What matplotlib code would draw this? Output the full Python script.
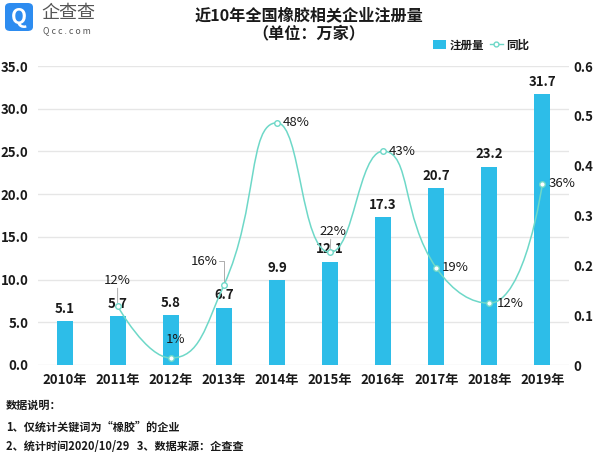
import math
import matplotlib
matplotlib.use("Agg")
import matplotlib.pyplot as plt
from matplotlib.path import Path
from matplotlib.patches import PathPatch, FancyBboxPatch, Patch
from matplotlib.lines import Line2D

plt.rcParams['font.family'] = ['Noto Sans CJK SC', 'DejaVu Sans']

years = ['2010年', '2011年', '2012年', '2013年', '2014年', '2015年', '2016年', '2017年', '2018年', '2019年']
registrations = [5.1, 5.7, 5.8, 6.7, 9.9, 12.1, 17.3, 20.7, 23.2, 31.7]
growth = [None, 0.118, 0.014, 0.16, 0.486, 0.226, 0.429, 0.195, 0.124, 0.364]
growth_labels = ['', '12%', '1%', '16%', '48%', '22%', '43%', '19%', '12%', '36%']
left_ticks = [0, 5, 10, 15, 20, 25, 30, 35]
right_ticks = [0, 0.1, 0.2, 0.3, 0.4, 0.5, 0.6]
right_tick_labels = ['0', '0.1', '0.2', '0.3', '0.4', '0.5', '0.6']

BAR = '#2DBDE8'
LINE = '#6ED8C8'
TXT = '#1A1A1A'
LEAD = '#A0A0A0'

W, H = 600, 458
fig = plt.figure(figsize=(6.0, 4.58), dpi=100)
ax = fig.add_axes([38 / W, 1 - 365 / H, (569 - 38) / W, (365 - 66) / H])
ax2 = ax.twinx()

x = list(range(len(years)))
ax.bar(x, registrations, width=0.3, color=BAR, zorder=2)
ax.set_xlim(-0.5, len(years) - 0.5)
ax.set_ylim(0, 35)
ax.set_yticks(left_ticks)
ax.set_yticklabels([f'{v:.1f}' for v in left_ticks])
ax.set_xticks(x)
ax.set_xticklabels(years)
ax.grid(axis='y', color='#E6E6E6', linewidth=1, zorder=0)
ax.set_axisbelow(True)
for s in ax.spines.values():
    s.set_visible(False)
for s in ax2.spines.values():
    s.set_visible(False)
ax.tick_params(axis='both', length=0, labelsize=9.5, colors=TXT)
ax.tick_params(axis='y', pad=7)
ax.tick_params(axis='x', pad=6)
for lab in ax.get_xticklabels() + ax.get_yticklabels():
    lab.set_fontweight('bold')

ax2.set_ylim(0, 0.6)
ax2.set_yticks(right_ticks)
ax2.set_yticklabels(right_tick_labels)
ax2.tick_params(axis='y', length=0, labelsize=9.5, colors=TXT, pad=3)
for lab in ax2.get_yticklabels():
    lab.set_fontweight('bold')
ax2.set_xlim(-0.5, len(years) - 0.5)

# bar value labels
for xi, v in zip(x, registrations):
    ax.annotate(f'{v:.1f}', (xi, v), xytext=(0, 4), textcoords='offset points',
                ha='center', va='bottom', fontsize=9.5, fontweight='bold', color=TXT, zorder=5)

# echarts-like smooth line
pts_x = [xi for xi, g in zip(x, growth) if g is not None]
pts_y = [g for g in growth if g is not None]
fig.canvas.draw()
disp = ax2.transData.transform(list(zip(pts_x, pts_y)))
xs = [p[0] for p in disp]
ys = [p[1] for p in disp]
smooth = 0.5
verts = [(xs[0], ys[0])]
codes = [Path.MOVETO]
cpx0, cpy0 = xs[0], ys[0]
n = len(xs)
for k in range(1, n):
    xk, yk = xs[k], ys[k]
    px, py = xs[k - 1], ys[k - 1]
    if k < n - 1:
        nx, ny = xs[k + 1], ys[k + 1]
        vx, vy = nx - px, ny - py
        lp = math.hypot(xk - px, yk - py)
        ln = math.hypot(nx - xk, ny - yk)
        ratio = ln / (ln + lp)
        ncx = xk + vx * smooth * ratio
        ncy = yk + vy * smooth * ratio
        ncx = max(min(ncx, max(nx, xk)), min(nx, xk))
        ncy = max(min(ncy, max(ny, yk)), min(ny, yk))
        vx, vy = ncx - xk, ncy - yk
        c1x = xk - vx * lp / ln
        c1y = yk - vy * lp / ln
        c1x = max(min(c1x, max(px, xk)), min(px, xk))
        c1y = max(min(c1y, max(py, yk)), min(py, yk))
        vx, vy = xk - c1x, yk - c1y
        ncx = xk + vx * ln / lp
        ncy = yk + vy * ln / lp
    else:
        c1x, c1y = xk, yk
        ncx, ncy = xk, yk
    verts += [(cpx0, cpy0), (c1x, c1y), (xk, yk)]
    codes += [Path.CURVE4] * 3
    cpx0, cpy0 = ncx, ncy
inv = ax2.transData.inverted()
dverts = inv.transform(verts)
ax2.add_patch(PathPatch(Path(dverts, codes), facecolor='none', edgecolor=LINE, linewidth=1.1, zorder=3))
ax2.plot(pts_x, pts_y, linestyle='none', marker='o', markersize=4, markerfacecolor='white',
         markeredgecolor=LINE, markeredgewidth=1.0, zorder=4)

# growth labels: offsets in points, alignment
label_off = {1: (0, 18.7, 'center'), 2: (3.6, 13, 'center'), 3: (-4.3, 17.3, 'right'),
             4: (4.3, 0, 'left'), 5: (2.2, 15, 'center'), 6: (4.3, 0, 'left'),
             7: (4.3, 0, 'left'), 8: (5, 0, 'left'), 9: (4.3, 0, 'left')}
for xi, g, lab in zip(x, growth, growth_labels):
    if g is None:
        continue
    dx, dy, ha = label_off[xi]
    ax2.annotate(lab, (xi, g), xytext=(dx, dy), textcoords='offset points', ha=ha, va='center',
                 fontsize=9.5, color=TXT, zorder=6)
# leader lines
ax2.annotate('', (1, growth[1]), xytext=(0, 13), textcoords='offset points',
             arrowprops=dict(arrowstyle='-', color=LEAD, lw=0.6, shrinkA=0, shrinkB=2.5))
ax2.annotate('', (5, growth[5]), xytext=(0.5, 9.5), textcoords='offset points',
             arrowprops=dict(arrowstyle='-', color=LEAD, lw=0.6, shrinkA=0, shrinkB=2.5))
ax2.annotate('', (3, growth[3]), xytext=(-3.6, 17.3), textcoords='offset points',
             arrowprops=dict(arrowstyle='-', color=LEAD, lw=0.6, shrinkA=0, shrinkB=2.5,
                             connectionstyle='angle,angleA=0,angleB=90,rad=0'))

# title
fig.text(309 / W, 1 - 15 / H, '近10年全国橡胶相关企业注册量', ha='center', va='center',
         fontsize=11.6, fontweight='bold', color=TXT)
fig.text(309 / W, 1 - 33 / H, '（单位：万家）', ha='center', va='center',
         fontsize=11.6, fontweight='bold', color=TXT)

# legend
handles = [Patch(facecolor=BAR, edgecolor='none'),
           Line2D([0], [0], color=LINE, lw=1.0, marker='o', markersize=3.5, markerfacecolor='white',
                  markeredgecolor=LINE)]
leg = fig.legend(handles, ['注册量', '同比'], loc='center right', bbox_to_anchor=(529 / W, 1 - 45 / H),
                 ncol=2, frameon=False, fontsize=8.3, handlelength=1.1, handletextpad=0.3,
                 columnspacing=0.5, handleheight=0.8, borderpad=0, borderaxespad=0)
for t in leg.get_texts():
    t.set_fontweight('bold')
    t.set_color(TXT)

# logo
fig.patches.append(FancyBboxPatch((5 / W, 1 - 31 / H), 28 / W, 28 / H,
                                  boxstyle='round,pad=0,rounding_size=0.009',
                                  transform=fig.transFigure, facecolor='#2D8CF0', edgecolor='none'))
fig.text(19 / W, 1 - 17.5 / H, 'Q', ha='center', va='center', fontsize=15, fontweight='bold',
         color='white')
fig.text(41 / W, 1 - 13 / H, '企查查', ha='left', va='center', fontsize=13, color='#555555')
fig.text(43 / W, 1 - 31 / H, 'Q c c . c o m', ha='left', va='center', fontsize=6.3, color='#555555')

# notes
fig.text(6 / W, 1 - 405 / H, '数据说明：', ha='left', va='center', fontsize=8, fontweight='bold', color=TXT)
fig.text(6 / W, 1 - 427 / H, '1、仅统计关键词为“橡胶”的企业', ha='left', va='center', fontsize=8,
         fontweight='bold', color=TXT)
fig.text(6 / W, 1 - 446 / H, '2、统计时间2020/10/29   3、数据来源：企查查', ha='left', va='center',
         fontsize=8, fontweight='bold', color=TXT)

fig.savefig('out.png', dpi=100)
